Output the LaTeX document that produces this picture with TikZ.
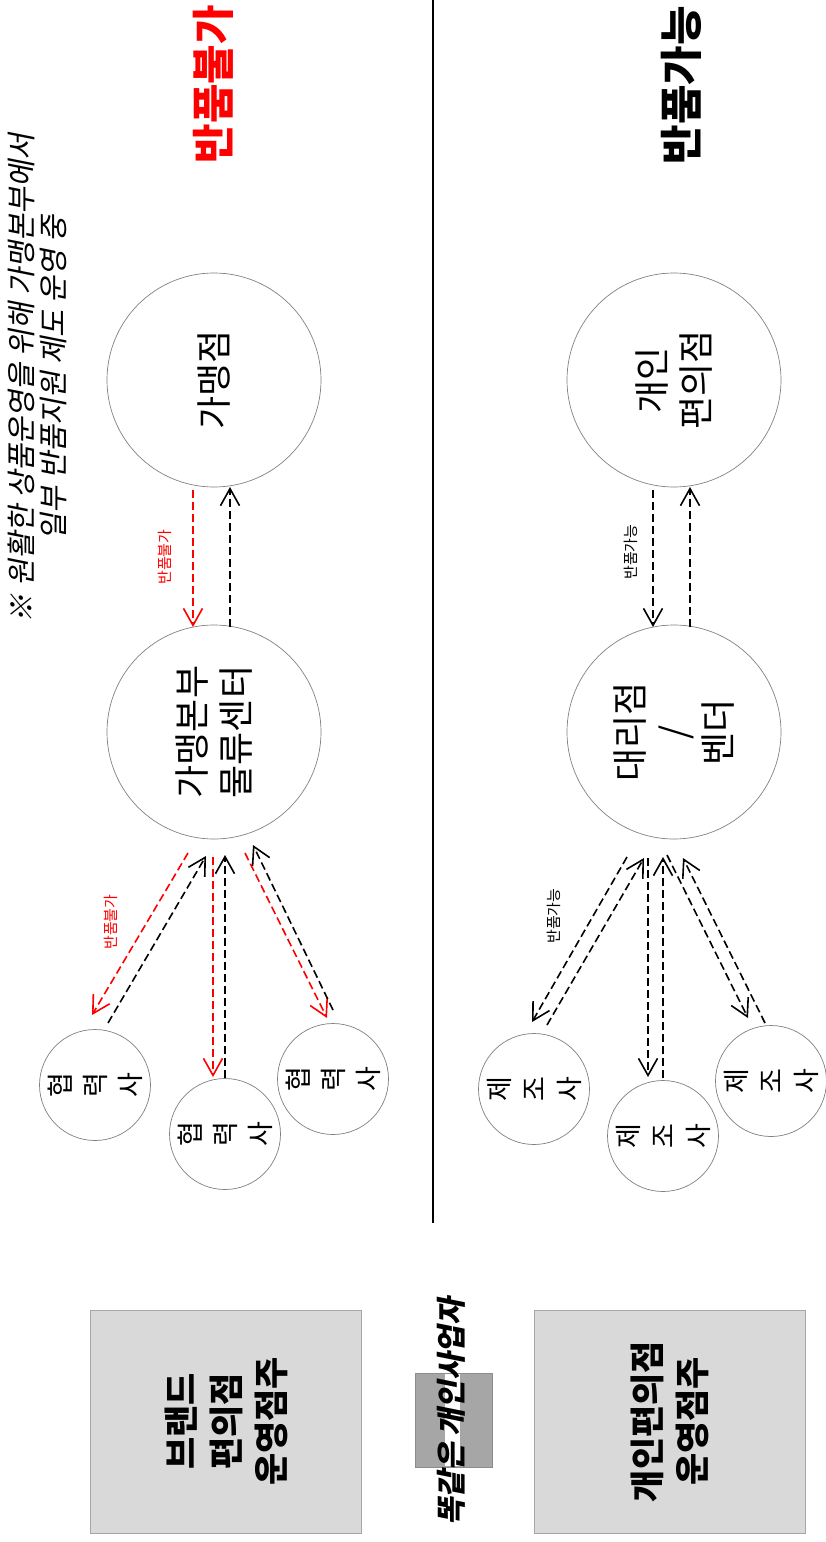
\documentclass[tikz,border=0pt]{standalone}
\usepackage{fontspec}
\setmainfont{Noto Sans CJK KR}
\newfontfamily\slantfont{Noto Sans CJK KR}[FakeSlant=0.2]
\usetikzlibrary{arrows.meta,calc}
\begin{document}
\begin{tikzpicture}[x=1pt,y=-1pt,
  big/.style={circle,draw=black!50,line width=0.7pt,minimum size=214pt,inner sep=0pt,rotate=90,align=center,font=\fontsize{36}{44}\selectfont},
  small/.style={circle,draw=black!50,line width=0.7pt,minimum size=111pt,inner sep=0pt,rotate=90,align=center,font=\fontsize{27}{35}\selectfont},
  owner/.style={rectangle,draw=black!35,fill=black!15,line width=0.8pt,minimum width=223pt,minimum height=271pt,inner sep=0pt,rotate=90,align=center,font=\fontsize{35}{45}\selectfont\bfseries},
  vtext/.style={rotate=90,align=center,inner sep=0pt},
  flow/.style={line width=1.6pt,dash pattern=on 8pt off 4pt,-{Straight Barb[length=17pt,width=19pt,line width=1.6pt]}},
  noret/.style={flow,draw=red},
  sup/.style={flow,draw=black},
  lbl/.style={vtext,font=\fontsize{15}{18}\selectfont}
]
\useasboundingbox (0,0) rectangle (826,1542);

% divider
\draw[line width=1.5pt] (433,0) -- (433,1223);

% titles
\node[vtext,text=red,font=\fontsize{43}{50}\selectfont\bfseries] (t1) at (213,84) {반품불가};
\node[vtext,font=\fontsize{43}{50}\selectfont\bfseries] (t2) at (681,85) {반품가능};
\node[vtext,font=\fontsize{29.5}{32}\selectfont\slantfont] (note) at (37,378) {※ 원활한 상품운영을 위해 가맹본부에서\\일부 반품지원 제도 운영 중};

% big circles
\node[big] (ga) at (214,380) {가맹점};
\node[big] (hq) at (214,732) {가맹본부\\물류센터};
\node[big] (ind) at (674,380) {개인\\편의점};
\node[big] (ven) at (674,732) {대리점\\/\\벤더};

% small circles
\node[small] (p1) at (95,1085) {협\\력\\사};
\node[small] (p2) at (225,1134) {협\\력\\사};
\node[small] (p3) at (333,1079) {협\\력\\사};
\node[small] (m1) at (534,1089) {제\\조\\사};
\node[small] (m2) at (663,1136) {제\\조\\사};
\node[small] (m3) at (771,1081) {제\\조\\사};

% left side arrows
\draw[noret] ($(ga)+(-21,110)$) -- ($(hq)+(-21,-105)$);
\draw[sup] ($(hq)+(16,-105)$) -- ($(ga)+(16,107)$);
\draw[noret] ($(hq)+(-26,121)$) -- ($(p1)+(-3,-70)$);
\draw[sup] ($(p1)+(13,-62)$) -- ($(hq)+(-8,124)$);
\draw[noret] ($(hq)+(-1,125)$) -- ($(p2)+(-12,-57)$);
\draw[sup] ($(p2)+(0,-56)$) -- ($(hq)+(11,123)$);
\draw[noret] ($(hq)+(31,121)$) -- ($(p3)+(-6,-61)$);
\draw[sup] ($(p3)+(0,-69)$) -- ($(hq)+(39,113)$);

% right side arrows
\draw[sup] ($(ind)+(-21,110)$) -- ($(ven)+(-21,-105)$);
\draw[sup] ($(ven)+(16,-105)$) -- ($(ind)+(16,107)$);
\draw[sup] ($(ven)+(-47,125)$) -- ($(m1)+(-2,-67)$);
\draw[sup] ($(m1)+(13,-64)$) -- ($(ven)+(-30,126)$);
\draw[sup] ($(ven)+(-26,126)$) -- ($(m2)+(-15,-59)$);
\draw[sup] ($(m2)+(0,-58)$) -- ($(ven)+(-11,125)$);
\draw[sup] ($(ven)+(-7,123)$) -- ($(m3)+(-23,-63)$);
\draw[sup] ($(m3)+(-6,-58)$) -- ($(ven)+(9,126)$);

% small labels
\node[lbl,text=red] (l1) at (165,557) {반품불가};
\node[lbl,text=red] (l2) at (111,922) {반품불가};
\node[lbl] (l3) at (631,552) {반품가능};
\node[lbl] (l4) at (554,916) {반품가능};

% bottom boxes
\node[owner] (bo) at (226,1421.5) {브랜드\\편의점\\운영점주};
\node[owner] (io) at (669.5,1421.5) {개인편의점\\운영점주};
\node[rectangle,fill=black!35,draw=black!45,line width=0.7pt,minimum width=77pt,minimum height=94pt,inner sep=0pt] (mid) at (453.5,1420) {};
\fill[white] (445,1373.6) rectangle (460,1466.4);
\node[vtext,font=\fontsize{30}{34}\selectfont\slantfont\bfseries] (same) at (451,1412) {똑같은 개인사업자};
\end{tikzpicture}
\end{document}
